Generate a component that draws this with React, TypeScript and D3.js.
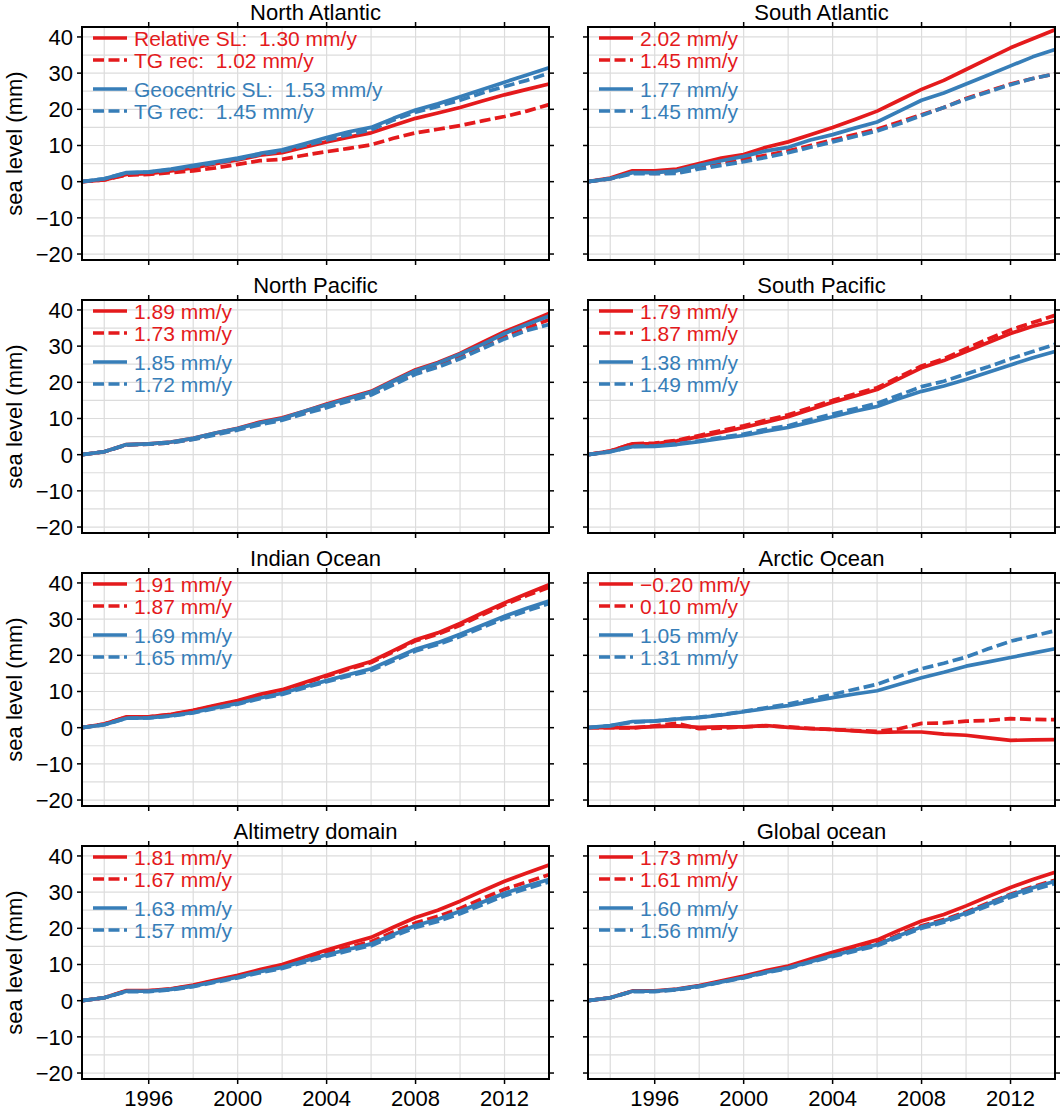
import * as d3 from "d3";

// annual means, 1993-2014 (mm, relative to 1993)
const years = [1993, 1994, 1995, 1996, 1997, 1998, 1999, 2000, 2001, 2002, 2003, 2004, 2005, 2006, 2007, 2008, 2009, 2010, 2011, 2012, 2013, 2014];

const regions = ["North Atlantic", "South Atlantic", "North Pacific", "South Pacific", "Indian Ocean", "Arctic Ocean", "Altimetry domain", "Global ocean"];

const relativeSL = [
  [0, 0.5, 2, 2.2, 3, 3.8, 5, 6, 7.3, 8, 9.5, 11, 12.3, 13.5, 15.5, 17.5, 19, 20.5, 22.3, 24, 25.5, 27],
  [0, 1, 3, 3, 3.5, 5, 6.5, 7.5, 9.5, 11, 13, 15, 17.2, 19.5, 22.5, 25.5, 28, 31, 34, 37, 39.5, 42],
  [0, 0.8, 2.8, 3, 3.5, 4.5, 6, 7.3, 9, 10.2, 12, 14, 15.8, 17.5, 20.5, 23.5, 25.5, 28, 31, 34, 36.5, 39],
  [0, 1, 3, 3, 3.8, 5, 6.2, 7.5, 9, 10.5, 12.5, 14.5, 16.2, 18, 21, 24, 26, 28.5, 31, 33.5, 35.5, 37],
  [0, 1, 3, 3, 3.7, 4.8, 6.2, 7.5, 9.2, 10.5, 12.5, 14.5, 16.5, 18.3, 21.3, 24.3, 26.2, 28.8, 31.7, 34.5, 37, 39.5],
  [0, 0, 0, 0.3, 0.5, 0.1, 0.2, 0.2, 0.6, 0.1, -0.3, -0.5, -0.9, -1.3, -1.2, -1.2, -1.8, -2.1, -2.8, -3.5, -3.4, -3.3],
  [0, 0.8, 2.8, 2.8, 3.3, 4.3, 5.7, 7, 8.6, 10, 12, 14, 15.8, 17.5, 20.3, 23, 25, 27.5, 30.3, 33, 35.3, 37.5],
  [0, 0.8, 2.7, 2.7, 3.2, 4.2, 5.5, 6.8, 8.3, 9.6, 11.5, 13.4, 15.1, 16.8, 19.5, 22, 23.8, 26.2, 28.8, 31.3, 33.5, 35.5],
];

const relativeTG = [
  [0, 0.5, 1.8, 2, 2.5, 3, 3.8, 4.8, 5.8, 6.2, 7.3, 8.3, 9.2, 10.2, 12, 13.5, 14.5, 15.5, 16.8, 18, 19.5, 21.3],
  [0, 0.8, 2.5, 2.3, 2.5, 4, 5, 6.2, 7.3, 8.5, 10, 11.5, 13, 14.5, 16.5, 18.5, 20.5, 23, 25, 27, 28.5, 29.8],
  [0, 0.8, 2.7, 2.9, 3.3, 4.3, 5.7, 7, 8.5, 9.8, 11.5, 13.3, 15, 16.8, 19.5, 22.5, 24.5, 27, 29.8, 32.5, 35, 37.3],
  [0, 1, 3, 3.2, 4, 5.3, 6.7, 8, 9.5, 11, 13, 15, 16.8, 18.5, 21.5, 24.5, 26.5, 29.3, 32, 34.5, 36.5, 38.5],
  [0, 1, 2.9, 3, 3.6, 4.7, 6, 7.3, 9, 10.3, 12.2, 14.2, 16.2, 18, 21, 24, 25.8, 28.3, 31.2, 34, 36.5, 38.8],
  [0, 0, -0.1, 0.5, 1.2, -0.3, -0.1, 0.2, 0.5, 0.2, -0.2, -0.5, -0.8, -1.0, -0.3, 1.2, 1.3, 1.8, 2.0, 2.5, 2.3, 2.2],
  [0, 0.8, 2.7, 2.7, 3.2, 4.2, 5.5, 6.7, 8.2, 9.5, 11.3, 13.2, 14.8, 16.3, 19, 21.5, 23.3, 25.5, 28.2, 30.8, 32.8, 34.8],
  [0, 0.8, 2.6, 2.6, 3.1, 4.0, 5.3, 6.5, 8, 9.2, 11, 12.7, 14.3, 15.8, 18.3, 20.7, 22.4, 24.5, 27, 29.4, 31.5, 33.3],
];

const geocentricSL = [
  [0, 0.8, 2.5, 2.7, 3.5, 4.5, 5.5, 6.5, 7.8, 8.8, 10.5, 12.2, 13.8, 15, 17.5, 19.8, 21.5, 23.5, 25.5, 27.5, 29.5, 31.5],
  [0, 0.8, 2.5, 2.5, 3, 4.5, 5.8, 7, 8.5, 9.5, 11.5, 13, 14.8, 16.5, 19.5, 22.5, 24.5, 27, 29.5, 32, 34.5, 36.5],
  [0, 0.8, 2.8, 3, 3.5, 4.5, 6, 7.2, 8.8, 10, 12, 13.8, 15.5, 17.3, 20.3, 23.2, 25.3, 27.8, 30.5, 33.5, 36, 38.3],
  [0, 0.8, 2.2, 2.3, 2.8, 3.6, 4.5, 5.3, 6.5, 7.5, 9, 10.5, 12, 13.3, 15.5, 17.5, 19, 20.8, 22.8, 24.8, 26.8, 28.5],
  [0, 0.8, 2.6, 2.7, 3.3, 4.2, 5.5, 6.7, 8.2, 9.5, 11.3, 13, 14.7, 16.3, 19, 21.7, 23.5, 25.8, 28.3, 30.8, 33, 35],
  [0, 0.6, 1.7, 1.9, 2.4, 2.8, 3.5, 4.4, 5.3, 6.1, 7.2, 8.3, 9.3, 10.2, 12.0, 13.8, 15.3, 17.0, 18.2, 19.4, 20.6, 21.8],
  [0, 0.8, 2.6, 2.6, 3.1, 4.0, 5.3, 6.5, 8, 9.2, 11, 12.7, 14.2, 15.7, 18.3, 20.8, 22.5, 24.7, 27.2, 29.7, 31.7, 33.5],
  [0, 0.8, 2.6, 2.6, 3.1, 4.0, 5.2, 6.4, 7.9, 9.1, 10.8, 12.5, 14, 15.5, 18, 20.4, 22.1, 24.2, 26.7, 29.2, 31.2, 33],
];

const geocentricTG = [
  [0, 0.8, 2.4, 2.6, 3.3, 4.2, 5.2, 6.2, 7.5, 8.5, 10, 11.5, 13, 14.3, 17, 19.2, 20.8, 22.5, 24.5, 26.3, 28, 30],
  [0, 0.8, 2.2, 2.2, 2.3, 3.5, 4.5, 5.5, 6.7, 8, 9.5, 11, 12.5, 14, 16, 18.3, 20.5, 22.8, 24.8, 26.8, 28.5, 29.8],
  [0, 0.8, 2.7, 2.9, 3.3, 4.2, 5.5, 6.8, 8.3, 9.5, 11.3, 13, 14.8, 16.5, 19.3, 22.2, 24.2, 26.5, 29.3, 32, 34.3, 36],
  [0, 0.8, 2.3, 2.4, 3, 3.8, 4.8, 5.7, 7, 8, 9.7, 11.2, 12.7, 14.2, 16.5, 18.8, 20.3, 22.3, 24.3, 26.5, 28.5, 30.5],
  [0, 0.8, 2.6, 2.7, 3.2, 4.1, 5.3, 6.5, 8, 9.2, 11, 12.7, 14.3, 15.8, 18.5, 21.2, 23, 25.2, 27.7, 30.2, 32.3, 34.3],
  [0, 0.5, 1.5, 1.8, 2.4, 2.9, 3.6, 4.5, 5.5, 6.5, 7.8, 9.2, 10.6, 12.0, 14.2, 16.3, 17.8, 19.5, 21.8, 23.9, 25.3, 26.8],
  [0, 0.8, 2.5, 2.5, 3, 3.9, 5.1, 6.3, 7.7, 8.9, 10.6, 12.3, 13.8, 15.2, 17.8, 20.2, 21.9, 24, 26.5, 29, 31, 32.8],
  [0, 0.8, 2.5, 2.5, 3, 3.9, 5.1, 6.3, 7.7, 8.9, 10.6, 12.2, 13.7, 15.2, 17.6, 20, 21.7, 23.8, 26.2, 28.6, 30.6, 32.4],
];

// trend labels shown in each legend
const relativeRates = ["1.30", "2.02", "1.89", "1.79", "1.91", "\u22120.20", "1.81", "1.73"];
const relativeTGRates = ["1.02", "1.45", "1.73", "1.87", "1.87", "0.10", "1.67", "1.61"];
const geocentricRates = ["1.53", "1.77", "1.85", "1.38", "1.69", "1.05", "1.63", "1.60"];
const geocentricTGRates = ["1.45", "1.45", "1.72", "1.49", "1.65", "1.31", "1.57", "1.56"];

const yearTicks = [1996, 2000, 2004, 2008, 2012];
const yearGrid = [1994, 1996, 1998, 2000, 2002, 2004, 2006, 2008, 2010, 2012];
const levelTicks = [-20, -10, 0, 10, 20, 30, 40];
const levelGrid = [-20, -15, -10, -5, 0, 5, 10, 15, 20, 25, 30, 35, 40];

const RED = "#e41a1c";
const BLUE = "#377eb8";
const FONT = "'Liberation Sans', Arial, Helvetica, sans-serif";
const FS = 22;
const LEG_FS = 21;
const DASH = "11,4.5";

const width = 1064;
const height = 1110;
const panelW = 467;
const panelH = 233;
const colX = [82, 588];
const rowY0 = 27;
const rowStep = 273;

const x = d3.scaleLinear().domain([1993, 2014]).range([0, panelW]);
const y = d3.scaleLinear().domain([-21.65, 42.75]).range([panelH, 0]);

const fmt = (v: number) => (v < 0 ? "\u2212" + Math.abs(v) : String(v));

function Panel({ i }: { i: number }) {
  const col = i % 2;
  const row = Math.floor(i / 2);
  const left = colX[col];
  const top = rowY0 + row * rowStep;

  const line = d3
    .line<number>()
    .x((_, k) => x(years[k]))
    .y((d) => y(d));

  const series = [
    { vals: relativeSL[i], color: RED, dash: undefined },
    { vals: relativeTG[i], color: RED, dash: DASH },
    { vals: geocentricSL[i], color: BLUE, dash: undefined },
    { vals: geocentricTG[i], color: BLUE, dash: DASH },
  ];

  const first = i === 0;
  const legend = [
    { label: (first ? "Relative SL:  " : "") + relativeRates[i] + " mm/y", color: RED, dash: undefined, dy: 11 },
    { label: (first ? "TG rec:  " : "") + relativeTGRates[i] + " mm/y", color: RED, dash: DASH, dy: 33 },
    { label: (first ? "Geocentric SL:  " : "") + geocentricRates[i] + " mm/y", color: BLUE, dash: undefined, dy: 62 },
    { label: (first ? "TG rec:  " : "") + geocentricTGRates[i] + " mm/y", color: BLUE, dash: DASH, dy: 84 },
  ];

  return (
    <g transform={`translate(${left},${top})`}>
      <text x={panelW / 2} y={-7} textAnchor="middle" fontSize={FS} fill="#000">
        {regions[i]}
      </text>

      {/* grid */}
      {yearGrid.map((t) => (
        <line key={"gx" + t} x1={x(t)} x2={x(t)} y1={0} y2={panelH} stroke="#dcdcdc" strokeWidth={1.2} />
      ))}
      {levelGrid.map((t) => (
        <line key={"gy" + t} x1={0} x2={panelW} y1={y(t)} y2={y(t)} stroke="#dcdcdc" strokeWidth={1.2} />
      ))}

      {/* series */}
      {series.map((s, k) => (
        <path
          key={k}
          d={line(s.vals) ?? ""}
          fill="none"
          stroke={s.color}
          strokeWidth={3.7}
          strokeDasharray={s.dash}
          strokeLinejoin="round"
        />
      ))}

      {/* legend */}
      {legend.map((l, k) => (
        <g key={"lg" + k}>
          <line x1={11} x2={45} y1={l.dy} y2={l.dy} stroke={l.color} strokeWidth={3.7} strokeDasharray={l.dash} />
          <text x={52} y={l.dy} dy="0.36em" fontSize={LEG_FS} fill={l.color} style={{ whiteSpace: "pre" }}>
            {l.label}
          </text>
        </g>
      ))}

      {/* ticks */}
      {yearTicks.map((t) => (
        <g key={"tx" + t}>
          <line x1={x(t)} x2={x(t)} y1={0} y2={-5} stroke="#000" strokeWidth={1.5} />
          <line x1={x(t)} x2={x(t)} y1={panelH} y2={panelH + 5} stroke="#000" strokeWidth={1.5} />
          {row === 3 && (
            <text x={x(t)} y={panelH + 27} textAnchor="middle" fontSize={FS} fill="#000">
              {t}
            </text>
          )}
        </g>
      ))}
      {levelTicks.map((t) => (
        <g key={"ty" + t}>
          <line x1={0} x2={-5} y1={y(t)} y2={y(t)} stroke="#000" strokeWidth={1.5} />
          <line x1={panelW} x2={panelW + 5} y1={y(t)} y2={y(t)} stroke="#000" strokeWidth={1.5} />
          {col === 0 && (
            <text x={-9} y={y(t)} dy="0.36em" textAnchor="end" fontSize={FS} fill="#000">
              {fmt(t)}
            </text>
          )}
        </g>
      ))}

      {col === 0 && (
        <text
          transform={`translate(${-left + 14},${panelH / 2}) rotate(-90)`}
          textAnchor="middle"
          dy="0.36em"
          fontSize={FS}
          fill="#000"
        >
          sea level (mm)
        </text>
      )}

      <rect x={0} y={0} width={panelW} height={panelH} fill="none" stroke="#000" strokeWidth={2} />
    </g>
  );
}

export default function App() {
  return (
    <svg
      width={width}
      height={height}
      style={{ position: "absolute", left: 0, top: 0, background: "#fff" }}
      fontFamily={FONT}
    >
      {regions.map((_, i) => (
        <Panel key={i} i={i} />
      ))}
    </svg>
  );
}
